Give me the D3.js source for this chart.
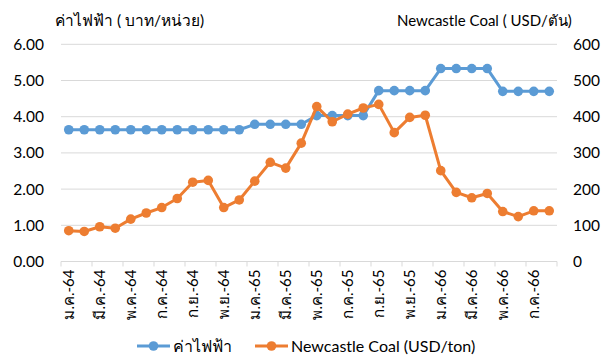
<!DOCTYPE html>
<html>
<head>
<meta charset="utf-8">
<script src="https://cdn.jsdelivr.net/npm/d3@7"></script>
<style>
  html, body { margin: 0; padding: 0; background: #fff; }
  svg { display: block; font-family: Lato, "Noto Sans", "DejaVu Sans", sans-serif; }
</style>
</head>
<body>
<svg id="chart" width="615" height="356"></svg>
<script>
// Monthly categories, Jan 2564 (2021) to Aug 2566 (2023)
const months = [
  "ม.ค.-64","ก.พ.-64","มี.ค.-64","เม.ย.-64","พ.ค.-64","มิ.ย.-64","ก.ค.-64","ส.ค.-64",
  "ก.ย.-64","ต.ค.-64","พ.ย.-64","ธ.ค.-64",
  "ม.ค.-65","ก.พ.-65","มี.ค.-65","เม.ย.-65","พ.ค.-65","มิ.ย.-65","ก.ค.-65","ส.ค.-65",
  "ก.ย.-65","ต.ค.-65","พ.ย.-65","ธ.ค.-65",
  "ม.ค.-66","ก.พ.-66","มี.ค.-66","เม.ย.-66","พ.ค.-66","มิ.ย.-66","ก.ค.-66","ส.ค.-66"
];

// Electricity tariff (baht/unit), left axis
const tariff = [
  3.64, 3.64, 3.64, 3.64, 3.64, 3.64, 3.64, 3.64, 3.64, 3.64, 3.64, 3.64,
  3.79, 3.79, 3.79, 3.79, 4.03, 4.03, 4.03, 4.03,
  4.72, 4.72, 4.72, 4.72, 5.33, 5.33, 5.33, 5.33, 4.70, 4.70, 4.70, 4.70
];

// Newcastle coal price (USD/ton), right axis
const coal = [
  85, 83, 96, 92, 117, 134, 149, 174, 219, 224, 149, 170,
  222, 274, 258, 327, 428, 386, 407, 424, 434, 356, 398, 404,
  251, 191, 176, 188, 138, 124, 140, 140
];

const leftTicks = [0, 1, 2, 3, 4, 5, 6];
const rightTicks = [0, 100, 200, 300, 400, 500, 600];

const leftTitle = "ค่าไฟฟ้า ( บาท/หน่วย)";
const rightTitle = "Newcastle Coal ( USD/ตัน)";
const seriesNames = ["ค่าไฟฟ้า", "Newcastle Coal (USD/ton)"];
const colors = ["#5B9BD5", "#ED7D31"];

const svg = d3.select("#chart");
const plot = { left: 61, right: 557, top: 44.3, bottom: 261.5 };

const x = d3.scaleBand().domain(d3.range(months.length)).range([plot.left, plot.right]).padding(0);
const yL = d3.scaleLinear().domain([0, 6]).range([plot.bottom, plot.top]);
const yR = d3.scaleLinear().domain([0, 600]).range([plot.bottom, plot.top]);
const cx = i => x(i) + x.bandwidth() / 2;

// Horizontal gridlines
svg.append("g")
  .selectAll("line")
  .data(leftTicks.filter(t => t > 0))
  .join("line")
  .attr("x1", plot.left).attr("x2", plot.right)
  .attr("y1", d => yL(d)).attr("y2", d => yL(d))
  .attr("stroke", "#D9D9D9").attr("stroke-width", 1);

// Left axis labels
const axL = svg.append("g")
  .attr("transform", `translate(${plot.left - 17},0)`)
  .call(d3.axisLeft(yL).tickValues(leftTicks).tickFormat(d3.format(".2f")).tickSize(0).tickPadding(0));
axL.select(".domain").remove();
axL.selectAll("text").attr("font-size", 15.5).attr("fill", "#000").attr("font-family", "Lato");

// Right axis labels
const axR = svg.append("g")
  .attr("transform", `translate(${plot.right + 16},0)`)
  .call(d3.axisRight(yR).tickValues(rightTicks).tickFormat(d3.format("d")).tickSize(0).tickPadding(0));
axR.select(".domain").remove();
axR.selectAll("text").attr("font-size", 15.5).attr("fill", "#000").attr("font-family", "Lato");

// Category axis: baseline, boundary ticks every two months, rotated labels
svg.append("line")
  .attr("x1", plot.left).attr("x2", plot.right)
  .attr("y1", plot.bottom).attr("y2", plot.bottom)
  .attr("stroke", "#D9D9D9").attr("stroke-width", 1);

const tickIdx = d3.range(0, months.length + 1, 2);
svg.append("g")
  .selectAll("line")
  .data(tickIdx)
  .join("line")
  .attr("x1", d => d < months.length ? x(d) : plot.right)
  .attr("x2", d => d < months.length ? x(d) : plot.right)
  .attr("y1", plot.bottom).attr("y2", plot.bottom + 5)
  .attr("stroke", "#D9D9D9").attr("stroke-width", 1);

svg.append("g")
  .selectAll("text")
  .data(d3.range(0, months.length - 1, 2))
  .join("text")
  .attr("transform", d => `translate(${cx(d)},${plot.bottom + 8}) rotate(-90)`)
  .attr("text-anchor", "end")
  .attr("dy", "0.35em")
  .attr("font-size", 15)
  .attr("fill", "#000")
  .text(d => months[d]);

// Axis titles
svg.append("text").attr("x", 55).attr("y", 26).attr("font-size", 15.5).attr("fill", "#000").text(leftTitle);
svg.append("text").attr("x", 397).attr("y", 26).attr("font-size", 15).attr("fill", "#000").text(rightTitle);

// Series lines and markers
function drawSeries(values, yScale, color) {
  const line = d3.line().x((d, i) => cx(i)).y(d => yScale(d));
  const g = svg.append("g");
  g.append("path").datum(values)
    .attr("d", line).attr("fill", "none")
    .attr("stroke", color).attr("stroke-width", 3).attr("stroke-linejoin", "round");
  g.selectAll("circle").data(values).join("circle")
    .attr("cx", (d, i) => cx(i)).attr("cy", d => yScale(d))
    .attr("r", 4.8).attr("fill", color);
}
drawSeries(tariff, yL, colors[0]);
drawSeries(coal, yR, colors[1]);

// Legend
const legend = [
  { x: 137, name: seriesNames[0], color: colors[0] },
  { x: 255, name: seriesNames[1], color: colors[1] }
];
const lg = svg.append("g").selectAll("g").data(legend).join("g")
  .attr("transform", d => `translate(${d.x},346)`);
lg.append("line").attr("x1", 0).attr("x2", 33).attr("y1", 0).attr("y2", 0)
  .attr("stroke", d => d.color).attr("stroke-width", 3);
lg.append("circle").attr("cx", 16.5).attr("cy", 0).attr("r", 4.8).attr("fill", d => d.color);
lg.append("text").attr("x", 36).attr("y", 0).attr("dy", "0.35em")
  .attr("font-size", 16).attr("fill", "#000").text(d => d.name);
</script>
</body>
</html>
